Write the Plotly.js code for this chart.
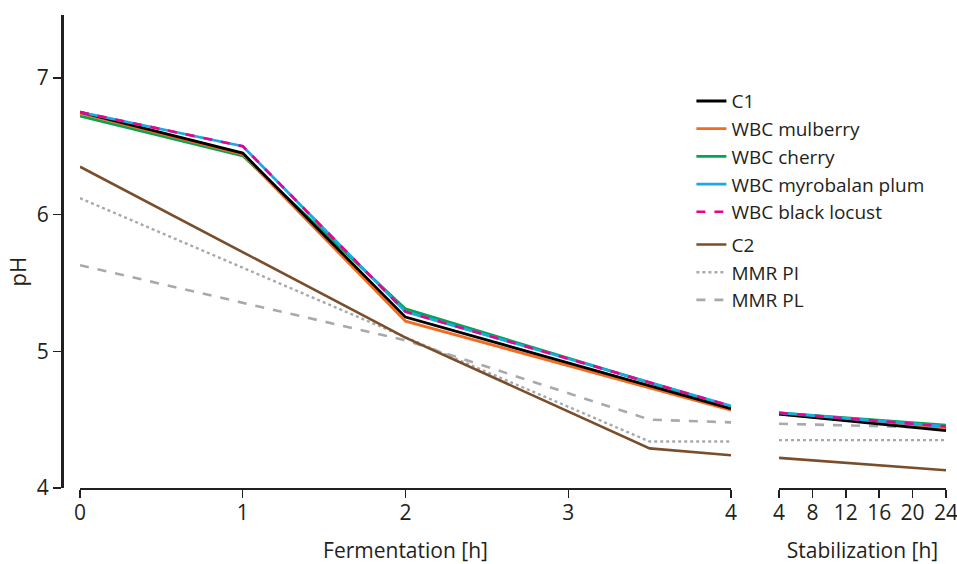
<!DOCTYPE html>
<html>
<head>
<meta charset="utf-8">
<script src="https://cdn.plot.ly/plotly-3.0.1.min.js"></script>
<style>html,body{margin:0;padding:0;background:#fff}#chart{width:957px;height:564px}</style>
</head>
<body>
<div id="chart"></div>
<script>
// Fermentation phase (hours)
const fermHoursWBC = [0, 1, 2, 4];
const fermHoursOther = [0, 2, 3.5, 4];
// Stabilization phase (hours)
const stabHours = [4, 24];

const seriesNames = ["C1", "WBC mulberry", "WBC cherry", "WBC myrobalan plum", "WBC black locust", "C2", "MMR PI", "MMR PL"];

// Fermentation pH values
const fermC1 = [6.75, 6.45, 5.25, 4.58];
const fermMulberry = [6.74, 6.44, 5.22, 4.57];
const fermCherry = [6.72, 6.43, 5.31, 4.59];
const fermMyrobalan = [6.75, 6.50, 5.29, 4.60];
const fermBlackLocust = [6.75, 6.50, 5.29, 4.60];
const fermC2 = [6.35, 5.10, 4.29, 4.24];
const fermMMRPI = [6.12, 5.10, 4.34, 4.34];
const fermMMRPL = [5.63, 5.08, 4.50, 4.48];

// Stabilization pH values
const stabC1 = [4.54, 4.42];
const stabMulberry = [4.54, 4.43];
const stabCherry = [4.55, 4.46];
const stabMyrobalan = [4.55, 4.45];
const stabBlackLocust = [4.55, 4.45];
const stabC2 = [4.22, 4.13];
const stabMMRPI = [4.35, 4.35];
const stabMMRPL = [4.47, 4.44];

const yTickVals = [4, 5, 6, 7];
const fermTickVals = [0, 1, 2, 3, 4];
const stabTickVals = [4, 8, 12, 16, 20, 24];

const styles = [
  {color: "#000000", width: 2.8, dash: "solid"},
  {color: "#F26B21", width: 2.8, dash: "solid"},
  {color: "#00A651", width: 2.8, dash: "solid"},
  {color: "#1CA8E3", width: 2.8, dash: "solid"},
  {color: "#EC008C", width: 2.6, dash: "dash"},
  {color: "#7A4E2A", width: 2.6, dash: "solid"},
  {color: "#A7A9AC", width: 2.4, dash: "dot"},
  {color: "#A7A9AC", width: 2.6, dash: "dash"}
];

const fermData = [fermC1, fermMulberry, fermCherry, fermMyrobalan, fermBlackLocust, fermC2, fermMMRPI, fermMMRPL];
const stabData = [stabC1, stabMulberry, stabCherry, stabMyrobalan, stabBlackLocust, stabC2, stabMMRPI, stabMMRPL];

// draw grey/brown lines first (underneath), legend order fixed by legendrank
const drawOrder = [7, 6, 5, 2, 1, 0, 3, 4];
const traces = [];
drawOrder.forEach((i) => {
  const grp = i < 5 ? "g1" : "g2";
  traces.push({
    x: i < 5 ? fermHoursWBC : fermHoursOther,
    y: fermData[i],
    name: seriesNames[i],
    type: "scatter",
    mode: "lines",
    line: styles[i],
    xaxis: "x",
    yaxis: "y",
    legendgroup: grp,
    legendrank: i + 1,
    hoverinfo: "x+y+name"
  });
});
drawOrder.forEach((i) => {
  const grp = i < 5 ? "g1" : "g2";
  traces.push({
    x: stabHours,
    y: stabData[i],
    name: seriesNames[i],
    type: "scatter",
    mode: "lines",
    line: styles[i],
    xaxis: "x2",
    yaxis: "y",
    legendgroup: grp,
    legendrank: i + 1,
    showlegend: false,
    hoverinfo: "x+y+name"
  });
});

const fontFam = "Open Sans, Noto Sans, sans-serif";
const ink = "#231F20";

const layout = {
  width: 957,
  height: 564,
  margin: {l: 62, r: 11, t: 15, b: 76},
  paper_bgcolor: "#ffffff",
  plot_bgcolor: "#ffffff",
  font: {family: fontFam, size: 19, color: ink},
  showlegend: true,
  legend: {
    x: 0.712, y: 0.858, xanchor: "left", yanchor: "top",
    traceorder: "grouped",
    tracegroupgap: 5,
    font: {family: fontFam, size: 19, color: ink},
    bgcolor: "rgba(0,0,0,0)"
  },
  xaxis: {
    domain: [0.02036, 0.7568],
    range: [0, 4],
    anchor: "y",
    tickvals: fermTickVals,
    ticks: "outside", ticklen: 8, tickwidth: 1.5, tickcolor: ink,
    showline: true, linewidth: 2, linecolor: ink,
    showgrid: false, zeroline: false,
    tickfont: {size: 21},
    ticklabelstandoff: -3,
    ticklabeloverflow: "allow",
    title: {text: "Fermentation [h]", font: {size: 21}, standoff: 20}
  },
  xaxis2: {
    domain: [0.8111, 1.0],
    range: [4, 24],
    anchor: "y",
    tickvals: stabTickVals,
    ticks: "outside", ticklen: 8, tickwidth: 1.5, tickcolor: ink,
    showline: true, linewidth: 2, linecolor: ink,
    showgrid: false, zeroline: false,
    tickfont: {size: 21},
    ticklabelstandoff: -3,
    ticklabeloverflow: "allow",
    title: {text: "Stabilization [h]", font: {size: 21}, standoff: 20}
  },
  yaxis: {
    domain: [0, 1],
    range: [4, 7.46],
    anchor: "free",
    position: 0,
    tickvals: yTickVals,
    ticks: "outside", ticklen: 8, tickwidth: 1.5, tickcolor: ink,
    showline: true, linewidth: 2.5, linecolor: ink,
    showgrid: false, zeroline: false,
    tickfont: {size: 21}
  },
  annotations: [{
    text: "pH", xref: "paper", yref: "paper",
    x: -0.0507, y: 0.458, xanchor: "center", yanchor: "middle",
    textangle: -90, showarrow: false,
    font: {family: fontFam, size: 22, color: ink}
  }]
};

Plotly.newPlot("chart", traces, layout, {displayModeBar: false, staticPlot: true});
</script>
</body>
</html>
